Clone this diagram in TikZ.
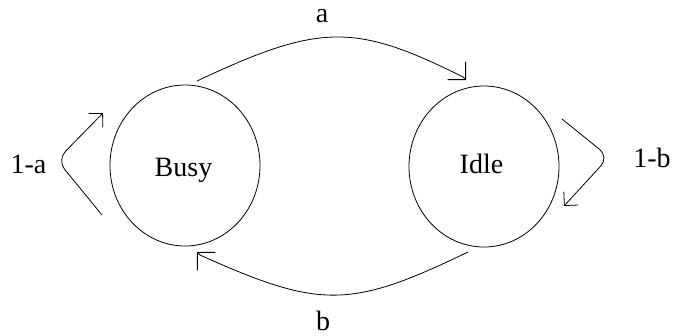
\documentclass[tikz,border=0pt]{standalone}
\usepackage{fontspec}
\setmainfont{Liberation Serif}
\usetikzlibrary{arrows.meta,shapes.geometric,calc}
\begin{document}
\begin{tikzpicture}[x=1pt,y=-1pt,
  state/.style={draw, ellipse, line width=0.8pt, minimum width=150pt, minimum height=161pt, inner sep=0pt},
  lab/.style={font=\fontsize{28}{32}\selectfont, inner sep=0pt, anchor=base},
  conn/.style={line width=0.8pt, -{Straight Barb[length=12.7pt,width=25.5pt]}},
  loopc/.style={line width=0.8pt, rounded corners=12pt, -{Straight Barb[length=9.8pt,width=19.6pt]}}]
\useasboundingbox (0,0) rectangle (676,335);
% states
\node[state] (busy) at (185,165.5) {};
\node[state] (idle) at (484,166.5) {};
\node[lab] (busyt) at (183.5,176) {Busy};
\node[lab] (idlet) at (481.5,173) {Idle};
% connector end points
\coordinate (a1) at (197,81);
\coordinate (a2) at (466,80);
\coordinate (b1) at (468,252);
\coordinate (b2) at (197,252);
\coordinate (la1) at (102,215);
\coordinate (lac) at (57,160);
\coordinate (la2) at (103,113);
\coordinate (lb1) at (562,119);
\coordinate (lbc) at (609,157);
\coordinate (lb2) at (564,206);
% transitions
\draw[conn] (a1) .. controls (320,23) and (355,23) .. ($(a2)+(-3,-3)$) -- (a2);
\draw[conn] (b1) .. controls (350,309) and (320,309) .. ($(b2)+(3,3)$) -- (b2);
\draw[loopc] (la1) -- (lac) -- (la2);
\draw[loopc] (lb1) -- (lbc) -- (lb2);
% labels
\node[lab] (la) at (322,22) {a};
\node[lab] (lb) at (323,330) {b};
\node[lab] (l1a) at (28.5,173) {1-a};
\node[lab] (l1b) at (652,167) {1-b};
\end{tikzpicture}
\end{document}
